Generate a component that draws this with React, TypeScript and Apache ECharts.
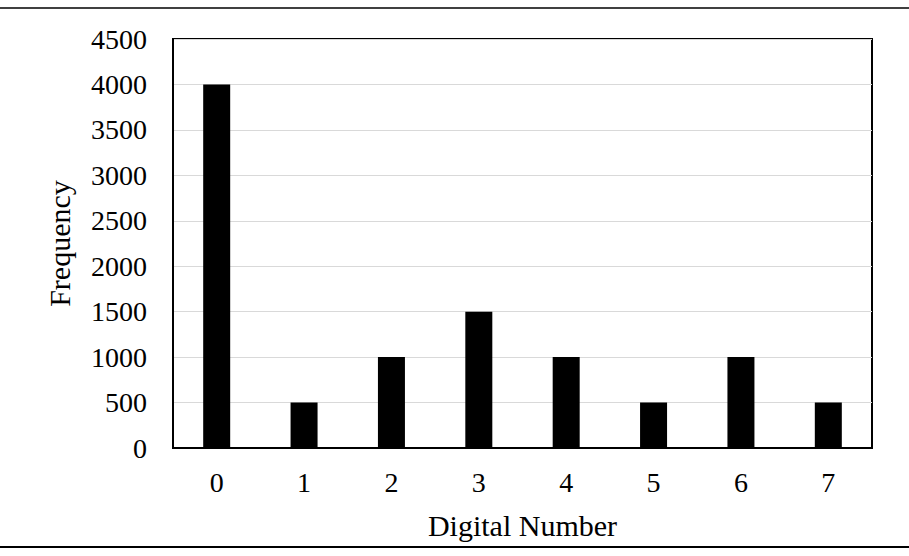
import React, { useEffect, useRef } from 'react';
import * as echarts from 'echarts';

const categories = ['0', '1', '2', '3', '4', '5', '6', '7'];
const frequency = [4000, 500, 1000, 1500, 1000, 500, 1000, 500];
const yTicks = { min: 0, max: 4500, interval: 500 };

const FONT = "'Liberation Serif', 'Times New Roman', serif";

const App = () => {
  const chartRef = useRef<HTMLDivElement>(null);

  useEffect(() => {
    document.body.style.margin = '0';
    if (!chartRef.current) return;
    const chart = echarts.init(chartRef.current, null, { renderer: 'svg' });

    const option = {
      animation: false,
      backgroundColor: '#fff',
      grid: {
        left: 173,
        right: 37,
        top: 39,
        bottom: 108,
        show: true,
        borderColor: '#000',
        borderWidth: 2,
        containLabel: false
      },
      xAxis: {
        type: 'category',
        data: categories,
        name: 'Digital Number',
        nameLocation: 'middle',
        nameGap: 62,
        nameTextStyle: { fontFamily: FONT, fontSize: 30, color: '#000' },
        axisLine: { show: true, lineStyle: { color: '#000', width: 2 } },
        axisTick: { show: false },
        axisLabel: { fontFamily: FONT, fontSize: 28, color: '#000', margin: 20 }
      },
      yAxis: {
        type: 'value',
        min: yTicks.min,
        max: yTicks.max,
        interval: yTicks.interval,
        name: 'Frequency',
        nameLocation: 'middle',
        nameGap: 99,
        nameTextStyle: { fontFamily: FONT, fontSize: 30, color: '#000' },
        axisLine: { show: true, lineStyle: { color: '#000', width: 2 } },
        axisTick: { show: false },
        axisLabel: {
          fontFamily: FONT,
          fontSize: 28,
          color: '#000',
          margin: 26,
          formatter: (v: number) => String(v)
        },
        splitLine: { show: true, lineStyle: { color: '#d9d9d9', width: 1 } }
      },
      series: [
        {
          type: 'bar',
          data: frequency,
          barWidth: 27,
          itemStyle: { color: '#000' }
        }
      ],
      graphic: [
        {
          type: 'line',
          shape: { x1: 0, y1: 8, x2: 909, y2: 8 },
          style: { stroke: '#404040', lineWidth: 2 }
        },
        {
          type: 'line',
          shape: { x1: 0, y1: 547, x2: 909, y2: 547 },
          style: { stroke: '#000', lineWidth: 2 }
        }
      ]
    };

    chart.setOption(option);

    return () => {
      chart.dispose();
    };
  }, []);

  return <div ref={chartRef} style={{ width: '909px', height: '556px' }} />;
};

export default App;
